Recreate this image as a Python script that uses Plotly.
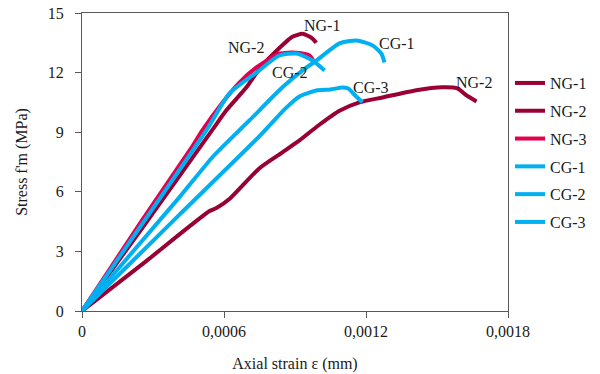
import plotly.graph_objects as go

# ---- data (strain, stress in MPa) ----
ng1_x = [0, 0.00025, 0.00055, 0.00061, 0.000695, 0.00075, 0.000805, 0.000889, 0.000932, 0.00097, 0.00099]
ng1_y = [0, 4.1, 9.1, 10.1, 11.26, 12.2, 12.9, 13.8, 13.95, 13.75, 13.5]

ng2_x = [0, 0.00027, 0.000539, 0.000568, 0.000624, 0.00075, 0.000847, 0.00092, 0.001, 0.001088, 0.001172,
         0.00127, 0.001413, 0.001523, 0.001586, 0.001625, 0.001667]
ng2_y = [0, 2.5, 5.03, 5.18, 5.65, 7.19, 7.99, 8.6, 9.35, 10.08, 10.5,
         10.75, 11.11, 11.26, 11.21, 10.85, 10.55]

ng3_x = [0, 0.00025, 0.000467, 0.000509, 0.000594, 0.000665, 0.000737, 0.000834, 0.000906, 0.000961, 0.000982]
ng3_y = [0, 4.5, 8.3, 9.1, 10.5, 11.5, 12.26, 12.96, 13.0, 12.86, 12.5]

cg1_x = [0, 0.000412, 0.000551, 0.000665, 0.000708, 0.000847, 0.000949, 0.000991, 0.001088, 0.00116,
         0.001227, 0.001265, 0.001278]
cg1_y = [0, 5.73, 7.74, 9.1, 9.6, 11.26, 12.26, 12.61, 13.47, 13.62, 13.37, 12.96, 12.51]

cg2_x = [0, 0.000526, 0.000623, 0.000737, 0.000834, 0.000906, 0.000974, 0.001025]
cg2_y = [0, 9.1, 10.95, 12.0, 12.86, 12.96, 12.61, 12.11]

cg3_x = [0, 0.000412, 0.00075, 0.00086, 0.000919, 0.00099, 0.00105, 0.0011, 0.001125, 0.00115, 0.001185]
cg3_y = [0, 4.85, 8.8, 10.2, 10.8, 11.1, 11.15, 11.25, 11.2, 10.9, 10.5]

series_names = ["NG-1", "NG-2", "NG-3", "CG-1", "CG-2", "CG-3"]
x_ticks = [0, 0.0006, 0.0012, 0.0018]
x_ticklabels = ["0", "0,0006", "0,0012", "0,0018"]
y_ticks = [0, 3, 6, 9, 12, 15]

# labels on the chart: text, x, y
label_text = ["NG-1", "NG-2", "CG-1", "CG-2", "CG-3", "NG-2"]
label_x = [0.001016, 0.000695, 0.001333, 0.000877, 0.001223, 0.001658]
label_y = [14.39, 13.24, 13.49, 12.03, 11.27, 11.52]

MAROON = "#990033"
CRIMSON = "#E3004F"
BLUE = "#00B0F0"
colors = [MAROON, MAROON, CRIMSON, BLUE, BLUE, BLUE]
FONT = "Liberation Serif"
TXT = "#1a1a1a"

data = [(ng1_x, ng1_y), (ng2_x, ng2_y), (ng3_x, ng3_y), (cg1_x, cg1_y), (cg2_x, cg2_y), (cg3_x, cg3_y)]

fig = go.Figure()
for i, (xs, ys) in enumerate(data):
    fig.add_trace(go.Scatter(
        x=xs, y=ys, mode="lines", name=series_names[i], legendgroup=series_names[i],
        line=dict(color=colors[i], width=4, shape="spline", smoothing=0.6),
        hoverinfo="skip"))

for t, x, y in zip(label_text, label_x, label_y):
    fig.add_annotation(x=x, y=y, xref="x", yref="y", text=t, showarrow=False,
                       font=dict(family=FONT, size=16, color=TXT))

axis_common = dict(showline=True, linecolor="#595959", linewidth=1, mirror=True,
                   ticks="outside", ticklen=6, tickcolor="#595959", showgrid=False,
                   zeroline=False, automargin=False, ticklabeloverflow="allow",
                   tickfont=dict(family=FONT, size=16, color=TXT))

fig.update_xaxes(range=[0, 0.0018], tickvals=x_ticks, ticktext=x_ticklabels,
                 title=dict(text="Axial strain ε (mm)", font=dict(family=FONT, size=16, color=TXT),
                            standoff=18),
                 **axis_common)
fig.update_yaxes(range=[0, 15], tickvals=y_ticks, ticklabelstandoff=8,
                 title=dict(text="Stress f'm (MPa)", font=dict(family=FONT, size=16, color=TXT),
                            standoff=16),
                 **axis_common)

fig.update_layout(
    width=600, height=374,
    margin=dict(l=82, r=92, t=13, b=63, autoexpand=False),
    paper_bgcolor="white", plot_bgcolor="white",
    font=dict(family=FONT, size=16, color=TXT),
    legend=dict(x=1.0047, xanchor="left", y=0.822, yanchor="top", tracegroupgap=4,
                font=dict(family=FONT, size=16, color=TXT),
                bgcolor="rgba(0,0,0,0)", itemwidth=30),
    showlegend=True,
)

# remove the page's default body margin so the figure sits at the window's top-left corner
fig.write_html("out.html", config={"displayModeBar": False},
               post_script="document.body.style.margin='0';")
